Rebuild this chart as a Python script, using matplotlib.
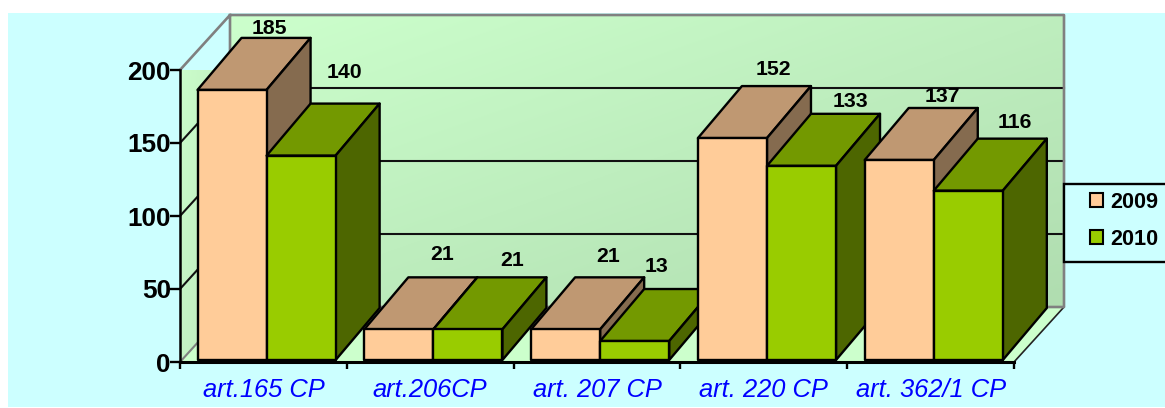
import numpy as np
import matplotlib
matplotlib.use("Agg")
import matplotlib.pyplot as plt
from matplotlib.patches import Polygon, Rectangle

plt.rcParams["font.family"] = ["Liberation Sans", "DejaVu Sans"]

categories = ["art.165 CP", "art.206CP", "art. 207 CP", "art. 220 CP", "art. 362/1 CP"]
values_2009 = [185, 21, 21, 152, 137]
values_2010 = [140, 21, 13, 133, 116]

# label offsets from the bar's front top centre, in pixels
offsets_2009 = [(37, 63), (43, 77), (42, 75), (41, 71), (43, 65)]
offsets_2010 = [(43, 85), (44, 71), (22, 77), (49, 66), (47, 70)]

W, H = 1165, 408
fig = plt.figure(figsize=(W / 100, H / 100), dpi=100, facecolor="white")

# cyan background
fig.add_artist(Rectangle((8 / W, 1 / H), 1 - 8 / W, 1 - 14 / H,
                         transform=fig.transFigure, fc="#CCFFFF", ec="none", zorder=-5))

# axes = front plane of the 3D box
ax = fig.add_axes([180 / W, (H - 362) / H, 834 / W, 292 / H])
ax.patch.set_visible(False)

px = 5 / 834
py = 200 / 292
box_dx, box_dy = 50 * px, 55 * py
bar_dx, bar_dy = 44 * px, 52 * py


def gradient(ax, c1, c2, extent, clip=None):
    a = np.array(matplotlib.colors.to_rgb(c1))
    b = np.array(matplotlib.colors.to_rgb(c2))
    n = 64
    u, v = np.meshgrid(np.linspace(0, 1, n), np.linspace(0, 1, n))
    t = (u + v) / 2
    img = a + (b - a) * t[..., None]
    im = ax.imshow(img, extent=extent, origin="upper", aspect="auto",
                   interpolation="bilinear", zorder=0, clip_on=False)
    if clip is not None:
        ax.add_patch(clip)
        im.set_clip_path(clip)
        im.set_clip_on(True)


# back wall
gradient(ax, "#CCFFCC", "#B0DDB0", (box_dx, 5 + box_dx, box_dy, 200 + box_dy))
# side wall
side = Polygon([(0, 0), (box_dx, box_dy), (box_dx, 200 + box_dy), (0, 200)],
               fc="none", ec="none", clip_on=False)
gradient(ax, "#CCFFCC", "#BCE6BC", (0, box_dx, 0, 200 + box_dy), clip=side)
# floor
ax.add_patch(Polygon([(0, 0), (box_dx, box_dy), (5 + box_dx, box_dy), (5, 0)],
                     fc="#CCFFCC", ec="none", clip_on=False, zorder=1))

# grid lines on the walls
for v in [50, 100, 150]:
    ax.plot([0, box_dx, 5 + box_dx], [v, v + box_dy, v + box_dy],
            color="#111111", lw=1.5, clip_on=False, zorder=1.5)
ax.plot([5, 5 + box_dx], [0, box_dy], color="#222222", lw=1.2, clip_on=False, zorder=1.5)
ax.plot([0, box_dx], [0, box_dy], color="#808080", lw=1.5, clip_on=False, zorder=1.5)
ax.plot([0, box_dx, 5 + box_dx, 5 + box_dx, box_dx, box_dx],
        [200, 200 + box_dy, 200 + box_dy, box_dy, box_dy, 200 + box_dy],
        color="#808080", lw=1.9, clip_on=False, zorder=1.5)


def draw_bar(ax, x0, w, val, colors, z):
    front, top, right = colors
    y0 = 2 * py
    y1 = val + y0
    kw = dict(ec="black", lw=1.7, clip_on=False, zorder=z, joinstyle="round")
    ax.add_patch(Polygon([(x0, y1), (x0 + bar_dx, y1 + bar_dy),
                          (x0 + w + bar_dx, y1 + bar_dy), (x0 + w, y1)], fc=top, **kw))
    ax.add_patch(Polygon([(x0 + w, y0), (x0 + w + bar_dx, y0 + bar_dy),
                          (x0 + w + bar_dx, y1 + bar_dy), (x0 + w, y1)], fc=right, **kw))
    ax.add_patch(Rectangle((x0, y0), w, val, fc=front, **kw))


peach = ("#FFCC99", "#BF9872", "#856B4F")
green = ("#99CC00", "#739900", "#4D6600")
bar_w = 0.414
start = 0.105

z = 3
for i, (a, b) in enumerate(zip(values_2009, values_2010)):
    x_a = i + start
    x_b = x_a + bar_w
    draw_bar(ax, x_a, bar_w, a, peach, z)
    draw_bar(ax, x_b, bar_w, b, green, z + 0.1)
    z += 0.2

# value labels
for i in range(len(categories)):
    for j, (val, off) in enumerate([(values_2009[i], offsets_2009[i]),
                                    (values_2010[i], offsets_2010[i])]):
        cx = i + start + bar_w * (j + 0.5)
        ax.annotate(str(val), (cx, val), xytext=(off[0] * 0.72, off[1] * 0.72),
                    textcoords="offset points", ha="center", va="center",
                    fontsize=15.3, fontweight="bold", color="black",
                    annotation_clip=False, zorder=10)

ax.set_xlim(0, 5)
ax.set_ylim(0, 200)
ax.set_yticks([0, 50, 100, 150, 200])
ax.set_xticks(range(6))
ax.set_xticklabels([])
ax.set_xticks(np.arange(5) + 0.5, categories, minor=True)
ax.tick_params(axis="y", labelsize=18.8, width=1.7, length=7, pad=-0.5)
for t in ax.get_yticklabels():
    t.set_fontweight("bold")
ax.tick_params(axis="x", which="major", width=1.7, length=5)
ax.tick_params(axis="x", which="minor", length=0, pad=11.5, labelsize=18.4, labelcolor="#0000FF")
for t in ax.get_xticklabels(minor=True):
    t.set_fontstyle("italic")
ax.spines["top"].set_visible(False)
ax.spines["right"].set_visible(False)
ax.spines["left"].set_linewidth(1.8)
ax.spines["bottom"].set_linewidth(2.2)

# legend box runs off the right edge of the picture
fig.add_artist(Rectangle((1064 / W, 1 - 262 / H), 110 / W, 78 / H,
                         transform=fig.transFigure, fc="#CCFFFF", ec="black", lw=1.7, zorder=15))
handles = [Rectangle((0, 0), 1, 1, fc="#FFCC99", ec="black", lw=1.5),
           Rectangle((0, 0), 1, 1, fc="#99CC00", ec="black", lw=1.5)]
leg = fig.legend(handles, ["2009", "2010"], loc="upper left",
                 bbox_to_anchor=(1090 / W, 1 - 192 / H), borderaxespad=0, frameon=False,
                 prop={"size": 15.6, "weight": "bold"}, handlelength=0.6, handleheight=0.6,
                 handletextpad=0.32, labelspacing=0.72, borderpad=0)
leg.set_zorder(20)

fig.savefig("out.png", dpi=100)
